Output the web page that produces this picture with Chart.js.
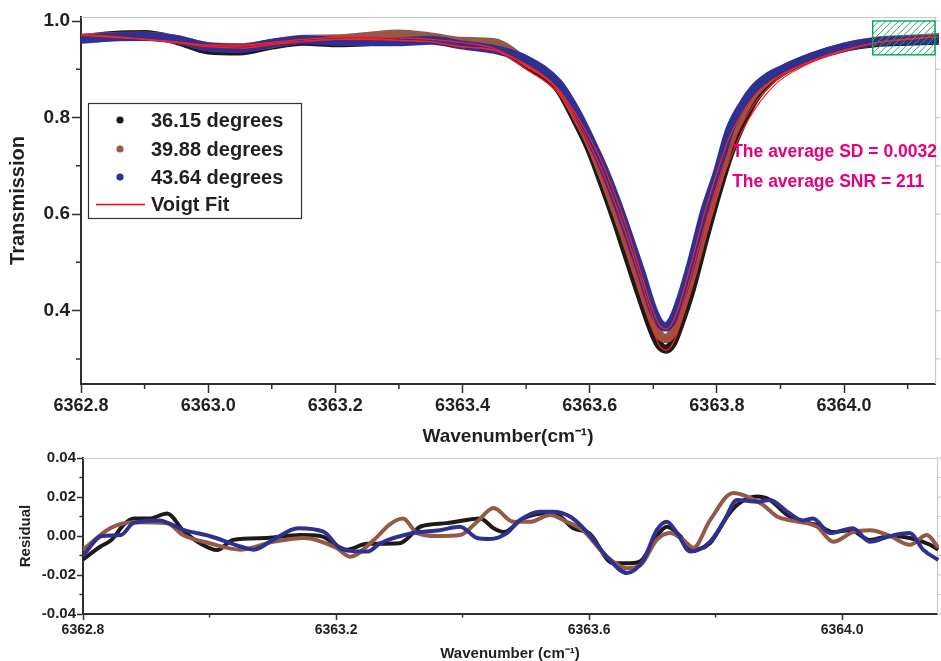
<!DOCTYPE html>
<html>
<head>
<meta charset="utf-8">
<title>Transmission and Voigt fit residuals</title>
<script src="https://cdn.jsdelivr.net/npm/chart.js"></script>
<style>
  html, body { margin: 0; padding: 0; background: #fff; overflow: hidden; }
  #wrap { position: relative; width: 941px; height: 661px; }
  #top { position: absolute; left: 0; top: 0; }
  #bottom { position: absolute; left: 0; top: 445px; }
</style>
</head>
<body>
<div id="wrap">
  <canvas id="top" width="941" height="450"></canvas>
  <canvas id="bottom" width="941" height="216"></canvas>
</div>
<script>
// ---- data ----
const wave = [6362.80, 6362.85, 6362.90, 6362.95, 6363.00, 6363.05, 6363.10, 6363.15, 6363.20, 6363.25,
  6363.30, 6363.35, 6363.40, 6363.45, 6363.50, 6363.55, 6363.58, 6363.60, 6363.62, 6363.64,
  6363.66, 6363.68, 6363.70, 6363.71, 6363.72, 6363.73, 6363.74, 6363.76, 6363.78, 6363.80,
  6363.82, 6363.84, 6363.86, 6363.88, 6363.90, 6363.95, 6364.00, 6364.05, 6364.10, 6364.15];

const trans3615 = [0.963, 0.970, 0.972, 0.960, 0.940, 0.938, 0.950, 0.958, 0.955, 0.957,
  0.962, 0.963, 0.955, 0.948, 0.910, 0.862, 0.790, 0.735, 0.665, 0.590,
  0.510, 0.430, 0.355, 0.328, 0.320, 0.332, 0.365, 0.445, 0.545, 0.640,
  0.725, 0.790, 0.840, 0.872, 0.893, 0.925, 0.945, 0.955, 0.958, 0.960];
const trans3988 = [0.965, 0.968, 0.969, 0.962, 0.947, 0.945, 0.953, 0.962, 0.963, 0.968,
  0.973, 0.967, 0.958, 0.955, 0.915, 0.868, 0.800, 0.748, 0.682, 0.610,
  0.535, 0.455, 0.378, 0.350, 0.342, 0.355, 0.388, 0.472, 0.570, 0.660,
  0.748, 0.810, 0.852, 0.878, 0.897, 0.926, 0.946, 0.958, 0.962, 0.966];
const trans4364 = [0.962, 0.967, 0.968, 0.962, 0.946, 0.943, 0.954, 0.961, 0.958, 0.957,
  0.957, 0.960, 0.950, 0.941, 0.920, 0.872, 0.810, 0.757, 0.700, 0.634,
  0.560, 0.482, 0.400, 0.374, 0.366, 0.380, 0.412, 0.500, 0.603, 0.683,
  0.774, 0.825, 0.862, 0.884, 0.898, 0.926, 0.946, 0.957, 0.960, 0.962];

const fit3615 = [0.972, 0.968, 0.962, 0.955, 0.947, 0.944, 0.951, 0.958, 0.962, 0.962,
  0.960, 0.957, 0.946, 0.940, 0.900, 0.851, 0.787, 0.735, 0.672, 0.602,
  0.522, 0.440, 0.357, 0.327, 0.318, 0.330, 0.362, 0.450, 0.548, 0.640,
  0.712, 0.772, 0.818, 0.852, 0.878, 0.915, 0.938, 0.955, 0.962, 0.968];
const fit3988 = [0.971, 0.966, 0.962, 0.956, 0.950, 0.950, 0.956, 0.962, 0.966, 0.967,
  0.965, 0.962, 0.955, 0.943, 0.907, 0.858, 0.795, 0.745, 0.688, 0.622,
  0.548, 0.465, 0.382, 0.350, 0.340, 0.352, 0.386, 0.476, 0.572, 0.660,
  0.735, 0.788, 0.830, 0.860, 0.884, 0.918, 0.940, 0.955, 0.963, 0.968];
const fit4364 = [0.970, 0.967, 0.962, 0.957, 0.950, 0.948, 0.954, 0.958, 0.962, 0.964,
  0.960, 0.957, 0.947, 0.939, 0.910, 0.860, 0.803, 0.758, 0.705, 0.640,
  0.565, 0.480, 0.398, 0.370, 0.362, 0.375, 0.408, 0.500, 0.600, 0.685,
  0.760, 0.810, 0.847, 0.870, 0.888, 0.918, 0.940, 0.955, 0.962, 0.968];

// residuals (own wavenumber grids)
const resWave3615 = [6362.800, 6362.827, 6362.845, 6362.865, 6362.880, 6362.905, 6362.933, 6362.958, 6362.985, 6363.012,
  6363.037, 6363.090, 6363.143, 6363.175, 6363.217, 6363.249, 6363.300, 6363.335, 6363.375, 6363.428,
  6363.449, 6363.465, 6363.496, 6363.533, 6363.550, 6363.575, 6363.600, 6363.638, 6363.665, 6363.681,
  6363.707, 6363.723, 6363.744, 6363.760, 6363.791, 6363.818, 6363.834, 6363.866, 6363.886, 6363.913,
  6363.938, 6363.962, 6363.986, 6364.013, 6364.044, 6364.076, 6364.107, 6364.139, 6364.152];
const res3615 = [-0.012, -0.0055, -0.002, 0.006, 0.009, 0.009, 0.0115, 0.003, -0.0037, -0.0072,
  -0.002, -0.001, 0.0005, 0.000, -0.007, -0.004, -0.0037, 0.005, 0.0066, 0.009,
  0.004, 0.002, 0.009, 0.0117, 0.011, 0.004, 0.0015, -0.014, -0.014, -0.013,
  0.000, 0.0048, 0.000, -0.007, -0.0037, 0.010, 0.016, 0.0202, 0.0185, 0.0108,
  0.0073, 0.0056, 0.002, 0.003, -0.002, 0.000, -0.001, -0.0045, -0.007];

const resWave3988 = [6362.800, 6362.843, 6362.880, 6362.933, 6362.958, 6363.000, 6363.050, 6363.100, 6363.150, 6363.200,
  6363.222, 6363.260, 6363.285, 6363.306, 6363.328, 6363.360, 6363.396, 6363.423, 6363.449, 6363.480,
  6363.507, 6363.538, 6363.565, 6363.590, 6363.628, 6363.660, 6363.681, 6363.707, 6363.728, 6363.749,
  6363.765, 6363.791, 6363.828, 6363.850, 6363.875, 6363.897, 6363.918, 6363.960, 6363.986, 6364.017,
  6364.044, 6364.076, 6364.107, 6364.134, 6364.152];
const res3988 = [-0.007, 0.004, 0.007, 0.0065, 0.0005, -0.0037, -0.007, -0.003, -0.001, -0.006,
  -0.0106, -0.002, 0.006, 0.009, 0.0015, 0.000, 0.0005, 0.0073, 0.0143, 0.0073,
  0.0073, 0.0108, 0.0073, 0.003, -0.0106, -0.0165, -0.015, -0.002, 0.0015, -0.002,
  -0.006, 0.008, 0.022, 0.0202, 0.016, 0.010, 0.008, 0.0048, -0.003, 0.002,
  0.003, 0.000, -0.0045, 0.0005, -0.006];

const resWave4364 = [6362.800, 6362.830, 6362.860, 6362.880, 6362.920, 6362.960, 6363.000, 6363.050, 6363.070, 6363.100,
  6363.140, 6363.180, 6363.210, 6363.250, 6363.270, 6363.322, 6363.364, 6363.396, 6363.423, 6363.443,
  6363.470, 6363.490, 6363.523, 6363.543, 6363.570, 6363.597, 6363.628, 6363.660, 6363.686, 6363.707,
  6363.723, 6363.739, 6363.760, 6363.791, 6363.812, 6363.834, 6363.866, 6363.886, 6363.913, 6363.938,
  6363.954, 6363.981, 6364.017, 6364.044, 6364.076, 6364.107, 6364.128, 6364.152];
const res4364 = [-0.010, 0.000, 0.0005, 0.0067, 0.008, 0.003, 0.000, -0.0055, -0.007, -0.002,
  0.004, 0.0022, -0.007, -0.008, -0.0037, 0.0015, 0.003, 0.0048, -0.001, -0.0015,
  0.0015, 0.008, 0.0125, 0.0125, 0.010, 0.002, -0.0106, -0.019, -0.0123, 0.003,
  0.0073, 0.0015, -0.008, -0.003, 0.0067, 0.0185, 0.0176, 0.0185, 0.0125, 0.008,
  0.009, 0.0015, 0.004, -0.003, 0.000, 0.0015, -0.007, -0.0123];

const seriesNames = ['36.15 degrees', '39.88 degrees', '43.64 degrees'];
const fitName = 'Voigt Fit';

const topXTicks = [6362.8, 6363.0, 6363.2, 6363.4, 6363.6, 6363.8, 6364.0];
const topXMinor = [6362.9, 6363.1, 6363.3, 6363.5, 6363.7, 6363.9, 6364.1];
const topYTicks = [0.4, 0.6, 0.8, 1.0];
const topYMinor = [0.3, 0.5, 0.7, 0.9];
const botXTicks = [6362.8, 6363.2, 6363.6, 6364.0];
const botXMinor = [6363.0, 6363.4, 6363.8];
const botYTicks = [-0.04, -0.02, 0.00, 0.02, 0.04];
const botYMinor = [-0.03, -0.01, 0.01, 0.03];

const noteLines = ['The average SD = 0.0032', 'The average SNR = 211'];
const noteAt = { x: 6363.824, y: [0.7285, 0.666] };
const hatchX = [6364.045, 6364.143];
const hatchY = [0.93, 1.0];

// ---- styles ----
const cBlack = '#1f1a17', cBrown = '#925a47', cBlue = '#2e3192', cRed = '#ff1f1f';
const axisColor = '#2f2f2f', frameColor = '#c9c9c9';
const FONT = '"Liberation Sans", Arial, Helvetica, sans-serif';

Chart.defaults.font.family = FONT;
Chart.defaults.font.weight = 'bold';
Chart.defaults.color = '#231f20';

const pts = (xs, ys) => xs.map((x, i) => ({ x: x, y: ys[i] }));

function minorTicks(chart, xMinor, yMinor, len) {
  const ctx = chart.ctx, a = chart.chartArea;
  const sx = chart.scales.x, sy = chart.scales.y;
  ctx.save();
  ctx.strokeStyle = axisColor;
  ctx.lineWidth = 1.5;
  ctx.beginPath();
  xMinor.forEach(v => { const p = sx.getPixelForValue(v); ctx.moveTo(p, a.bottom); ctx.lineTo(p, a.bottom + len); });
  yMinor.forEach(v => { const p = sy.getPixelForValue(v); ctx.moveTo(a.left, p); ctx.lineTo(a.left - len, p); });
  ctx.stroke();
  ctx.restore();
}

function lightFrame(chart, yVals) {
  const ctx = chart.ctx, a = chart.chartArea, sy = chart.scales.y;
  ctx.save();
  ctx.strokeStyle = frameColor;
  ctx.lineWidth = 1.2;
  ctx.beginPath();
  ctx.moveTo(a.left, a.top + 0.5);
  ctx.lineTo(a.right + 0.5, a.top + 0.5);
  ctx.lineTo(a.right + 0.5, a.bottom);
  yVals.forEach(v => { const p = sy.getPixelForValue(v); ctx.moveTo(a.right, p); ctx.lineTo(a.right + 5, p); });
  ctx.stroke();
  ctx.restore();
}

const topDecor = {
  id: 'topDecor',
  beforeDatasetsDraw(chart) {
    lightFrame(chart, topYTicks.concat(topYMinor));
  },
  afterDraw(chart) {
    const ctx = chart.ctx, a = chart.chartArea;
    const sx = chart.scales.x, sy = chart.scales.y;
    minorTicks(chart, topXMinor, topYMinor, 5);

    // hatched box
    const x1 = sx.getPixelForValue(hatchX[0]), x2 = sx.getPixelForValue(hatchX[1]);
    const y1 = sy.getPixelForValue(hatchY[1]), y2 = sy.getPixelForValue(hatchY[0]);
    ctx.save();
    ctx.beginPath();
    ctx.rect(x1, y1, x2 - x1, y2 - y1);
    ctx.clip();
    ctx.strokeStyle = '#1aa860';
    ctx.lineWidth = 1;
    ctx.beginPath();
    const h = y2 - y1;
    for (let k = x1 - h; k < x2; k += 6.5) {
      ctx.moveTo(k, y2);
      ctx.lineTo(k + h, y1);
    }
    ctx.stroke();
    ctx.restore();
    ctx.save();
    ctx.strokeStyle = '#00a650';
    ctx.lineWidth = 1.4;
    ctx.strokeRect(x1, y1, x2 - x1, y2 - y1);
    ctx.restore();

    // annotation text
    ctx.save();
    ctx.fillStyle = '#e5007d';
    ctx.font = 'bold 17.5px ' + FONT;
    ctx.textBaseline = 'middle';
    ctx.textAlign = 'left';
    noteLines.forEach((t, i) => ctx.fillText(t, sx.getPixelForValue(noteAt.x), sy.getPixelForValue(noteAt.y[i])));
    ctx.restore();

    // legend box
    const L = a.left + 7, T = 103, W = 213, H = 115;
    ctx.save();
    ctx.fillStyle = '#fff';
    ctx.fillRect(L, T, W, H);
    ctx.strokeStyle = '#333';
    ctx.lineWidth = 1.2;
    ctx.strokeRect(L + 0.5, T + 0.5, W, H);
    ctx.font = 'bold 20px ' + FONT;
    ctx.textBaseline = 'middle';
    ctx.fillStyle = '#231f20';
    const rows = [T + 17, T + 46, T + 74, T + 101];
    [cBlack, cBrown, cBlue].forEach((c, i) => {
      ctx.beginPath();
      ctx.fillStyle = c;
      ctx.arc(L + 32, rows[i], 3.6, 0, Math.PI * 2);
      ctx.fill();
      ctx.fillStyle = '#231f20';
      ctx.fillText(seriesNames[i], L + 63, rows[i] + 1);
    });
    ctx.strokeStyle = '#ff0000';
    ctx.lineWidth = 1.6;
    ctx.beginPath();
    ctx.moveTo(L + 8, rows[3] + 0.5);
    ctx.lineTo(L + 57, rows[3] + 0.5);
    ctx.stroke();
    ctx.fillText(fitName, L + 63, rows[3] + 1);
    ctx.restore();
  }
};

const botDecor = {
  id: 'botDecor',
  beforeDatasetsDraw(chart) {
    lightFrame(chart, botYTicks.concat(botYMinor));
  },
  afterDraw(chart) {
    minorTicks(chart, botXMinor, botYMinor, 3.5);
  }
};

function band(label, xs, ys, color, width, order) {
  return {
    label: label,
    data: pts(xs, ys),
    borderColor: color,
    backgroundColor: color,
    borderWidth: width,
    pointRadius: 0,
    fill: false,
    cubicInterpolationMode: 'monotone',
    clip: { left: 0, right: 4, top: 0, bottom: 0 },
    order: order
  };
}

const axisBase = (ticks, fmt, tickLen, pad, size) => ({
  type: 'linear',
  afterBuildTicks: s => { s.ticks = ticks.map(v => ({ value: v })); },
  ticks: { callback: v => v.toFixed(fmt), font: { size: size, weight: 'bold' }, color: '#231f20', padding: pad, maxRotation: 0, autoSkip: false },
  grid: { display: true, drawOnChartArea: false, drawTicks: true, tickLength: tickLen, tickWidth: 1.5, tickColor: axisColor },
  border: { display: true, color: axisColor, width: 2 }
});

// ---- top chart ----
new Chart(document.getElementById('top'), {
  type: 'line',
  data: {
    datasets: [
      band(fitName, wave, fit4364, cRed, 1.2, 0),
      band(fitName, wave, fit3988, cRed, 1.2, 1),
      band(fitName, wave, fit3615, cRed, 1.2, 2),
      band(seriesNames[2], wave, trans4364, cBlue, 9, 3),
      band(seriesNames[1], wave, trans3988, cBrown, 9, 4),
      band(seriesNames[0], wave, trans3615, cBlack, 9, 5)
    ]
  },
  options: {
    responsive: false,
    animation: false,
    layout: { padding: { left: 0, right: 6, top: 17, bottom: 0 } },
    plugins: { legend: { display: false }, tooltip: { enabled: false } },
    scales: {
      x: Object.assign(axisBase(topXTicks, 1, 9, 2, 18), {
        min: 6362.8, max: 6364.143,
        afterFit: s => { s.height = 66; },
        title: { display: true, text: 'Wavenumber(cm⁻¹)', font: { size: 19, weight: 'bold' }, color: '#231f20', padding: { top: 2, bottom: 2 } }
      }),
      y: Object.assign(axisBase(topYTicks, 1, 9, 2, 19), {
        min: 0.248, max: 1.0083,
        afterFit: s => { s.width = 81; },
        title: { display: true, text: 'Transmission', font: { size: 20, weight: 'bold' }, color: '#231f20', padding: { top: 6, bottom: 6 } }
      })
    }
  },
  plugins: [topDecor]
});

// ---- residual chart ----
new Chart(document.getElementById('bottom'), {
  type: 'line',
  data: {
    datasets: [
      band(seriesNames[2], resWave4364, res4364, cBlue, 4, 0),
      band(seriesNames[1], resWave3988, res3988, cBrown, 4, 1),
      band(seriesNames[0], resWave3615, res3615, cBlack, 4, 2)
    ]
  },
  options: {
    responsive: false,
    animation: false,
    layout: { padding: { left: 0, right: 4, top: 13, bottom: 0 } },
    plugins: { legend: { display: false }, tooltip: { enabled: false } },
    scales: {
      x: Object.assign(axisBase(botXTicks, 1, 6, 2, 14), {
        min: 6362.8, max: 6364.15,
        afterFit: s => { s.height = 47; },
        title: { display: true, text: 'Wavenumber (cm⁻¹)', font: { size: 15, weight: 'bold', lineHeight: 1 }, color: '#231f20', padding: { top: 0, bottom: 0 } }
      }),
      y: Object.assign(axisBase(botYTicks, 2, 6, 1, 15), {
        min: -0.04, max: 0.04,
        afterFit: s => { s.width = 83; },
        title: { display: true, text: 'Residual', font: { size: 15, weight: 'bold' }, color: '#231f20', padding: { top: 17, bottom: 17 } }
      })
    }
  },
  plugins: [botDecor]
});
</script>
</body>
</html>
